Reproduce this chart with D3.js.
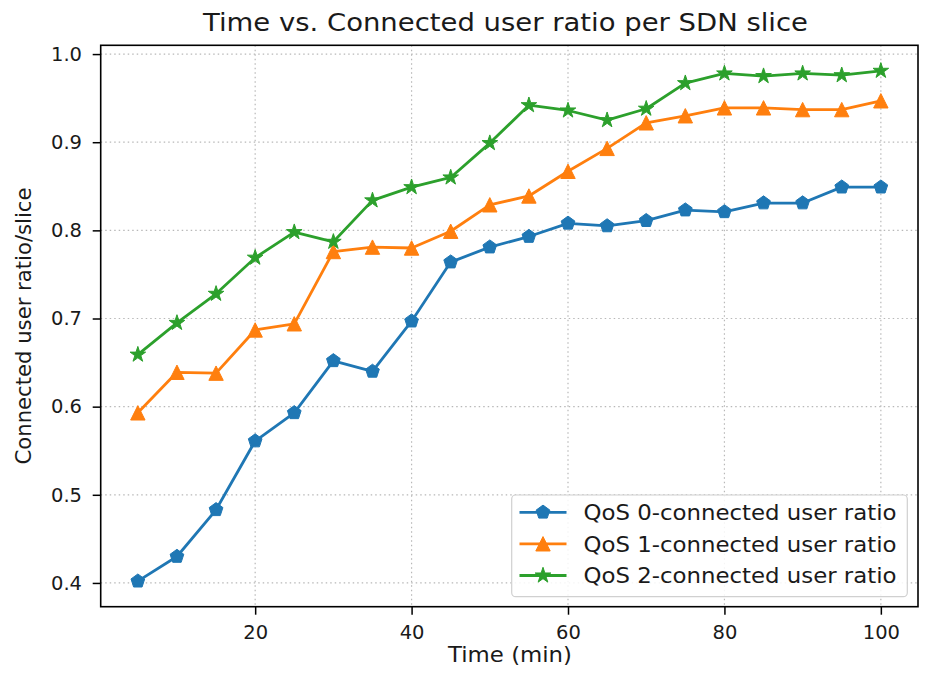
<!DOCTYPE html>
<html>
<head>
<meta charset="utf-8">
<script src="https://cdn.jsdelivr.net/npm/d3@7"></script>
<style>
  html, body { margin: 0; padding: 0; background: #fff; }
  svg { display: block; font-family: "DejaVu Sans", sans-serif; }
</style>
</head>
<body>
<svg id="chart" width="927" height="673"></svg>
<script>
// Time in minutes
const times = [5, 10, 15, 20, 25, 30, 35, 40, 45, 50, 55, 60, 65, 70, 75, 80, 85, 90, 95, 100];

// Connected user ratio per slice
const qos0 = [0.402, 0.430, 0.483, 0.561, 0.593, 0.652, 0.640, 0.697, 0.764, 0.781, 0.793, 0.808, 0.805, 0.811, 0.823, 0.821, 0.831, 0.831, 0.849, 0.849];
const qos1 = [0.593, 0.639, 0.638, 0.687, 0.694, 0.776, 0.781, 0.780, 0.799, 0.829, 0.839, 0.867, 0.893, 0.922, 0.930, 0.939, 0.939, 0.937, 0.937, 0.947];
const qos2 = [0.659, 0.695, 0.728, 0.769, 0.798, 0.787, 0.834, 0.849, 0.860, 0.899, 0.942, 0.936, 0.925, 0.938, 0.967, 0.978, 0.975, 0.978, 0.976, 0.981];

const seriesNames = ["QoS 0-connected user ratio", "QoS 1-connected user ratio", "QoS 2-connected user ratio"];
const xTicks = [20, 40, 60, 80, 100];
const yTicks = [0.4, 0.5, 0.6, 0.7, 0.8, 0.9, 1.0];

const colors = ["#1f77b4", "#ff7f0e", "#2ca02c"];
const markerKinds = ["pentagon", "triangle", "star"];

const series = [qos0, qos1, qos2].map((vals, i) => ({
  name: seriesNames[i],
  color: colors[i],
  marker: markerKinds[i],
  points: times.map((t, j) => ({ x: t, y: vals[j] }))
}));

const svg = d3.select("#chart");
const plot = { left: 100.7, right: 918, top: 45.3, bottom: 606.7 };
const textColor = "#1a1a1a";

// Matplotlib-style 5% padding around the data range
const allY = [...qos0, ...qos1, ...qos2];
const xMin = d3.min(times), xMax = d3.max(times);
const yMin = d3.min(allY), yMax = d3.max(allY);
const xPad = (xMax - xMin) * 0.05, yPad = (yMax - yMin) * 0.05;

const x = d3.scaleLinear().domain([xMin - xPad, xMax + xPad]).range([plot.left, plot.right]);
const y = d3.scaleLinear().domain([yMin - yPad, yMax + yPad]).range([plot.bottom, plot.top]);

// Marker shapes
function markerPath(kind, r) {
  const pts = [];
  if (kind === "pentagon") {
    for (let k = 0; k < 5; k++) {
      const a = -Math.PI / 2 + k * 2 * Math.PI / 5;
      pts.push([r * Math.cos(a), r * Math.sin(a)]);
    }
  } else if (kind === "triangle") {
    pts.push([0, -r], [-r, r], [r, r]);
  } else {
    const inner = r * 0.381966;
    for (let k = 0; k < 10; k++) {
      const a = -Math.PI / 2 + k * Math.PI / 5;
      const rr = k % 2 === 0 ? r : inner;
      pts.push([rr * Math.cos(a), rr * Math.sin(a)]);
    }
  }
  return "M" + pts.map(p => p[0].toFixed(2) + "," + p[1].toFixed(2)).join("L") + "Z";
}
const markerSize = { pentagon: 7.2, triangle: 7.2, star: 8.2 };

// Grid
const grid = svg.append("g").attr("stroke", "#b8b8b8").attr("stroke-width", 1.2)
  .attr("stroke-dasharray", "1.5,3");
grid.selectAll("line.gx").data(xTicks).join("line")
  .attr("x1", d => x(d)).attr("x2", d => x(d))
  .attr("y1", plot.top).attr("y2", plot.bottom);
grid.selectAll("line.gy").data(yTicks).join("line")
  .attr("y1", d => y(d)).attr("y2", d => y(d))
  .attr("x1", plot.left).attr("x2", plot.right);

// Series lines and markers
const line = d3.line().x(d => x(d.x)).y(d => y(d.y));
series.forEach(s => {
  svg.append("path").datum(s.points)
    .attr("fill", "none").attr("stroke", s.color)
    .attr("stroke-width", 2.8).attr("stroke-linejoin", "round")
    .attr("d", line);
  svg.append("g").selectAll("path").data(s.points).join("path")
    .attr("transform", d => `translate(${x(d.x)},${y(d.y)})`)
    .attr("d", markerPath(s.marker, markerSize[s.marker]))
    .attr("fill", s.color).attr("stroke", s.color).attr("stroke-width", 1);
});

// Axes
const xAxis = d3.axisBottom(x).tickValues(xTicks).tickSize(8).tickPadding(10.5).tickFormat(d3.format("d"));
const yAxis = d3.axisLeft(y).tickValues(yTicks).tickSize(8).tickPadding(10.7).tickFormat(d3.format(".1f"));

const gx = svg.append("g").attr("transform", `translate(0,${plot.bottom})`).call(xAxis);
const gy = svg.append("g").attr("transform", `translate(${plot.left},0)`).call(yAxis);
[gx, gy].forEach(g => {
  g.select(".domain").remove();
  g.selectAll(".tick line").attr("stroke", "#000").attr("stroke-width", 1.5);
  g.selectAll(".tick text").attr("fill", textColor).style("font-size", "19.5px")
    .style("font-family", "'DejaVu Sans', sans-serif");
});

// Frame
svg.append("rect")
  .attr("x", plot.left).attr("y", plot.top)
  .attr("width", plot.right - plot.left).attr("height", plot.bottom - plot.top)
  .attr("fill", "none").attr("stroke", "#000").attr("stroke-width", 1.6);

// Titles
svg.append("text")
  .attr("x", 505.5).attr("y", 31)
  .attr("text-anchor", "middle").attr("fill", textColor)
  .style("font-size", "25px")
  .attr("textLength", 605).attr("lengthAdjust", "spacingAndGlyphs")
  .text("Time vs. Connected user ratio per SDN slice");

svg.append("text")
  .attr("x", 510).attr("y", 661.5)
  .attr("text-anchor", "middle").attr("fill", textColor)
  .style("font-size", "21.5px")
  .attr("textLength", 124).attr("lengthAdjust", "spacingAndGlyphs")
  .text("Time (min)");

svg.append("text")
  .attr("transform", `translate(31,${(plot.top + plot.bottom) / 2}) rotate(-90)`)
  .attr("text-anchor", "middle").attr("fill", textColor)
  .style("font-size", "21.2px")
  .attr("textLength", 277).attr("lengthAdjust", "spacingAndGlyphs")
  .text("Connected user ratio/slice");

// Legend
const legend = svg.append("g");
legend.append("rect")
  .attr("x", 511.7).attr("y", 495).attr("width", 395.6).attr("height", 101.7)
  .attr("rx", 4).attr("fill", "#fff").attr("fill-opacity", 0.85)
  .attr("stroke", "#d0d0d0").attr("stroke-width", 1.2);
const rowY = [512.3, 543.8, 575.5];
series.forEach((s, i) => {
  const g = legend.append("g").attr("transform", `translate(0,${rowY[i]})`);
  g.append("line").attr("x1", 519.5).attr("x2", 566.5).attr("y1", 0).attr("y2", 0)
    .attr("stroke", s.color).attr("stroke-width", 2.8);
  g.append("path").attr("transform", "translate(543,0)")
    .attr("d", markerPath(s.marker, markerSize[s.marker]))
    .attr("fill", s.color).attr("stroke", s.color).attr("stroke-width", 1);
  g.append("text").attr("x", 583.5).attr("y", 0).attr("dy", "0.36em")
    .attr("fill", textColor).style("font-size", "21.5px")
    .attr("textLength", 313).attr("lengthAdjust", "spacingAndGlyphs")
    .text(s.name);
});
</script>
</body>
</html>
